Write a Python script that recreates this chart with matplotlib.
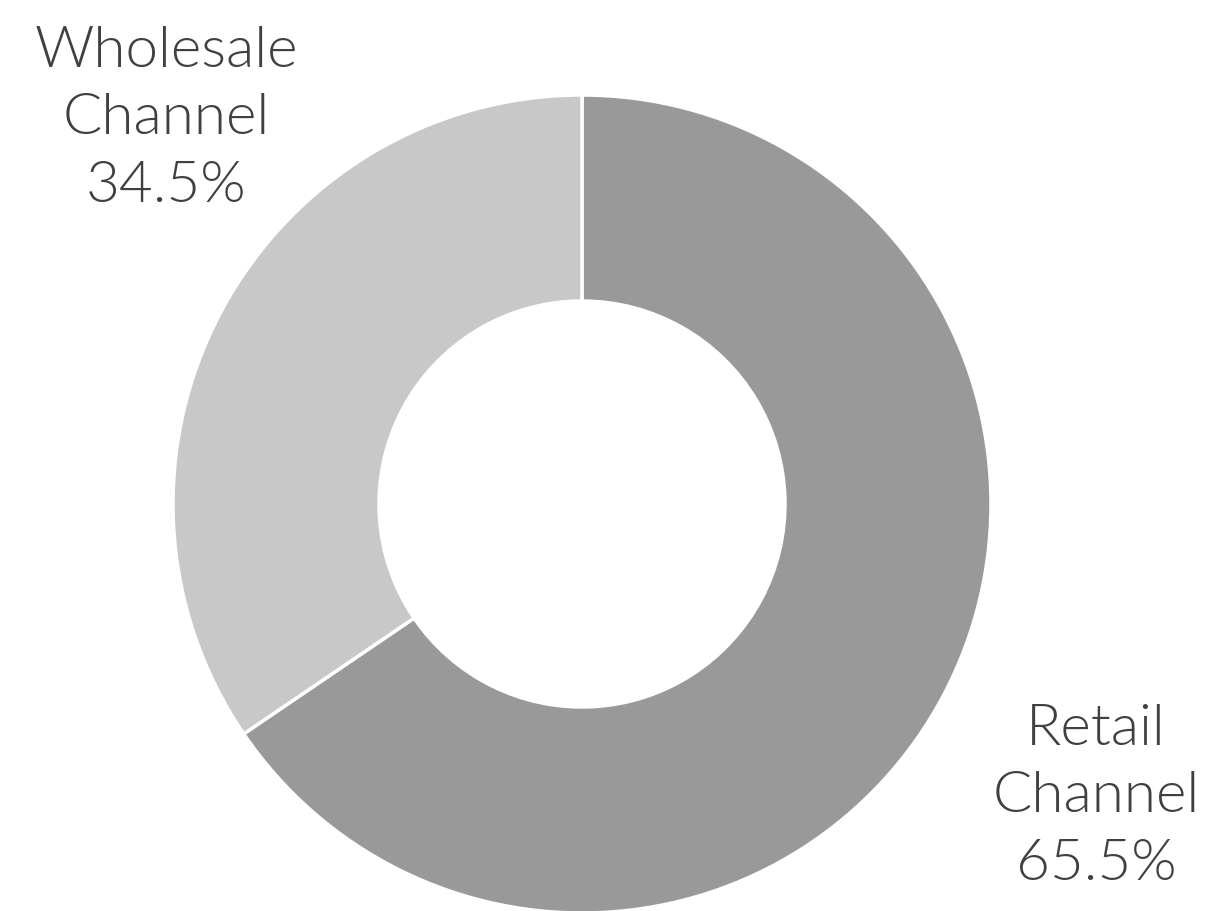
import matplotlib
matplotlib.use("Agg")
import matplotlib.pyplot as plt

categories = ["Retail\nChannel", "Wholesale\nChannel"]
values = [65.5, 34.5]
colors = ["#999999", "#c8c8c8"]

W, H = 1210, 911
fig = plt.figure(figsize=(W / 100, H / 100), dpi=100)
ax = fig.add_axes([0, 0, 1, 1])

cx, cy, r, r_in = 582, H - 504, 409, 203
ax.pie(values, colors=colors, startangle=90, counterclock=False,
       center=(cx, cy), radius=r, frame=True,
       wedgeprops=dict(width=r - r_in, edgecolor="white", linewidth=2.5))
ax.set_xlim(0, W)
ax.set_ylim(0, H)
ax.set_aspect("equal")
ax.axis("off")

label_pos = [(1096, H - 797), (166, H - 119)]
for cat, v, (x, y) in zip(categories, values, label_pos):
    ax.text(x, y, f"{cat}\n{v:.1f}%", ha="center", va="center",
            fontsize=42, family="Lato", fontweight=300,
            color="#404040", linespacing=1.4)

fig.savefig("out.png", dpi=100)
